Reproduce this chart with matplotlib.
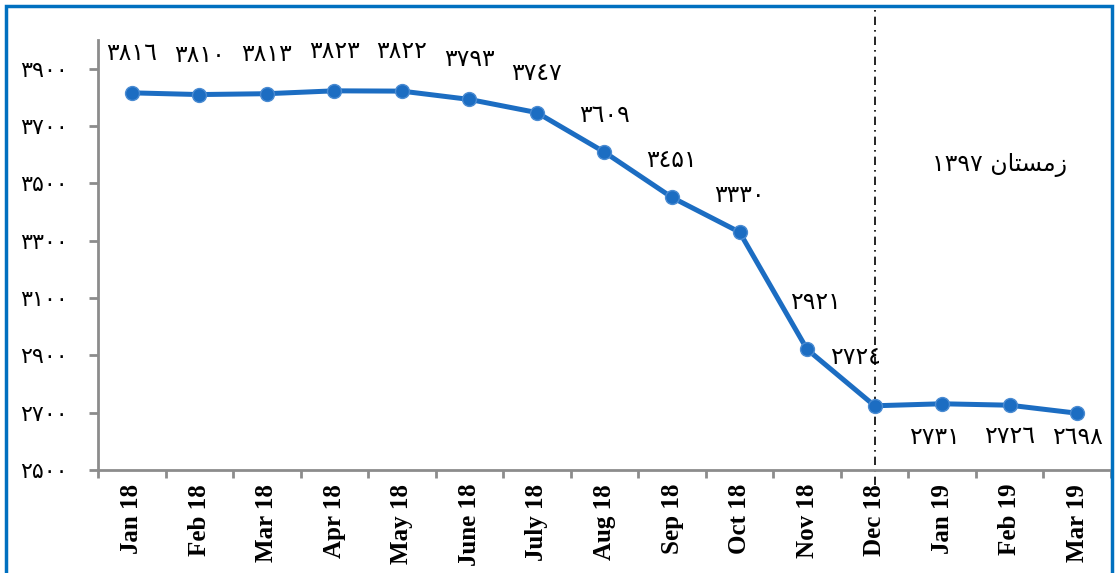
import matplotlib
matplotlib.use("Agg")
from matplotlib import pyplot as plt
from matplotlib.patches import Rectangle

# data
months = ["Jan 18", "Feb 18", "Mar 18", "Apr 18", "May 18", "June 18", "July 18",
          "Aug 18", "Sep 18", "Oct 18", "Nov 18", "Dec 18", "Jan 19", "Feb 19", "Mar 19"]
values = [3816, 3810, 3813, 3823, 3822, 3793, 3747, 3609, 3451, 3330, 2921, 2724, 2731, 2726, 2698]
y_ticks = [2500, 2700, 2900, 3100, 3300, 3500, 3700, 3900]
season_label = "زمستان ۱۳۹۷"

blue = "#1C6DC2"
digits = {"0": "۰", "1": "۱", "2": "۲", "3": "۳", "4": "٤",
          "5": "۵", "6": "٦", "7": "۷", "8": "۸", "9": "۹"}


def fa(n, table=digits):
    return "".join(table.get(c, c) for c in str(n))


def shape_rtl(text):
    # matplotlib has no bidi/shaping, so write the word in visual order
    forms = {"زمستان": "\uFEE5\uFE8E\uFE98\uFEB4\uFEE3\uFEAF"}
    word, num = text.split(" ")
    num = "".join({"1": "۱", "3": "۳", "9": "۹", "7": "۷"}.get(c, c) for c in num)
    return num + " " + forms.get(word, word)


fig = plt.figure(figsize=(11.16, 5.73), dpi=100)
ax = fig.add_axes([0.0878, 0.1798, 0.9077, 0.7502])

x = list(range(len(months)))
ax.plot(x, values, color=blue, lw=3.6, marker="o", ms=10,
        mfc=blue, mec="#4A8BD2", mew=1.0, zorder=3)

# label offsets in pixels (dx, dy) for each point
offsets = [(0, 40)] * 7 + [(0, 37)] * 3 + [(8, 47), (-19, 49), (-8, -33), (0, -31), (0, -24)]
for i, v in enumerate(values):
    dx, dy = offsets[i]
    ax.annotate(fa(v), (x[i], v), xytext=(dx, dy), textcoords="offset pixels",
                ha="center", va="center", fontsize=17, family="DejaVu Sans",
                color="black", zorder=4)

ax.axvline(11, ymin=-0.035, ymax=1.075, color="black", lw=1.2,
           ls=(0, (5, 3, 1, 3)), clip_on=False, zorder=2)

ax.text(12.85, 3565, shape_rtl(season_label), ha="center", va="center",
        fontsize=17, family="DejaVu Sans")

ax.set_xlim(-0.5, 14.5)
ax.set_ylim(2500, 4000)
ax.set_yticks(y_ticks)
ax.set_yticklabels([fa(t) for t in y_ticks], fontsize=16, family="DejaVu Sans")
ax.set_xticks(x)
ax.set_xticklabels(months, rotation=90, fontsize=18, fontweight="bold",
                   family="Liberation Serif")
ax.set_xticks([i - 0.5 for i in range(len(months) + 1)], minor=True)
ax.tick_params(axis="x", which="major", length=0, pad=10)
ax.tick_params(axis="x", which="minor", length=6, color="#8C8C8C", width=2)
ax.tick_params(axis="y", length=6.5, color="#8C8C8C", width=2, pad=15)

for side in ["top", "right"]:
    ax.spines[side].set_visible(False)
for side in ["left", "bottom"]:
    ax.spines[side].set_color("#8C8C8C")
    ax.spines[side].set_linewidth(2)

fig.patches.append(Rectangle((0.0055, -0.02), 0.9905, 1.01, transform=fig.transFigure,
                             fill=False, ec="#0070C0", lw=2.5))

fig.savefig("out.png", dpi=100)
